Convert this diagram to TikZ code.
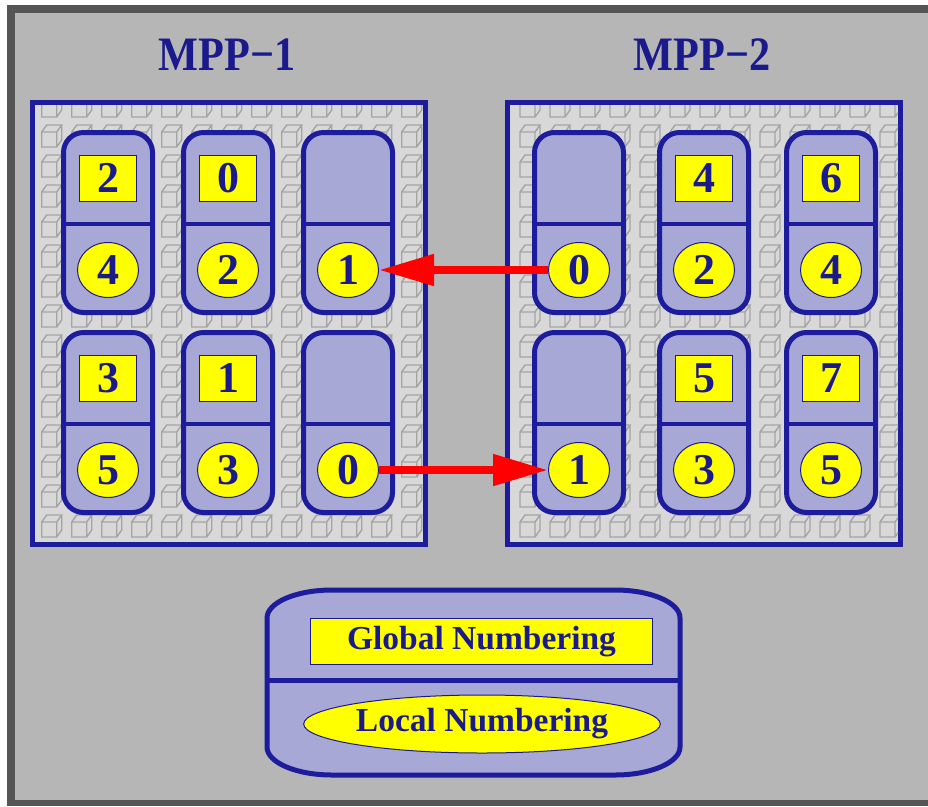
\documentclass[tikz,border=0pt]{standalone}
\usepackage{fontspec}
\setmainfont{Liberation Serif}
\newfontfamily\titlefont{Liberation Serif}[FakeStretch=0.88]
\usetikzlibrary{arrows.meta,shapes.geometric}

\definecolor{framegray}{HTML}{555555}
\definecolor{bggray}{HTML}{B6B6B6}
\definecolor{boxgray}{HTML}{D8D8D8}
\definecolor{cubegray}{HTML}{A4A4A4}
\definecolor{lineblue}{HTML}{1C1C9C}
\definecolor{numblue}{HTML}{1A1A8C}
\definecolor{tilefill}{HTML}{A8A8D6}
\definecolor{numyellow}{HTML}{FFFF00}

\tikzset{
  mppbox/.style={draw=lineblue, line width=5pt, fill=boxgray},
  cube/.style={draw=cubegray, line width=1.4pt},
  tile/.style={draw=lineblue, line width=5pt, fill=tilefill, rounded corners=20pt,
    minimum width=89pt, minimum height=180pt, inner sep=0pt},
  divider/.style={draw=lineblue, line width=4.5pt},
  digits/.style={text=numblue, font=\bfseries\fontsize{44}{44}\selectfont},
  glob/.style={digits, draw=numblue, line width=1pt, fill=numyellow,
    minimum width=57pt, minimum height=46pt, inner sep=0pt},
  loc/.style={digits, ellipse, draw=numblue, line width=1pt, fill=numyellow,
    minimum width=61pt, minimum height=55pt, inner sep=0pt},
  arr/.style={draw=red, line width=8pt, -{Triangle[length=55pt,width=30pt]}},
  title/.style={text=numblue, anchor=base, font=\titlefont\bfseries\fontsize{48}{48}\selectfont},
  legendtext/.style={text=numblue, inner sep=0pt, font=\bfseries\fontsize{33.5}{33.5}\selectfont},
}

% one grey wire-frame cube, top-left corner of its bounding box at (#1,#2)
\newcommand\gridcube[2]{%
  \draw[cube] (#1,#2+7) rectangle ++(15,15)
    (#1,#2+7) -- ++(5,-7) -- ++(15,0) -- ++(-5,7)
    (#1+20,#2) -- ++(0,15) -- ++(-5,7);}

\begin{document}
\begin{tikzpicture}[x=1pt,y=-1pt]
\useasboundingbox (0,0) rectangle (928,806);
\fill[white] (0,0) rectangle (928,806);
\fill[framegray] (7,5) rectangle (940,806);
\fill[bggray] (15,13) rectangle (940,800);

% titles
\node[title] (t1) at (227,70) {MPP−1};
\node[title] (t2) at (702,70) {MPP−2};

% the two machine boxes with their cube grids
\draw[mppbox] (32.5,102.5) rectangle (425.5,544.5);
\draw[mppbox] (507.5,102.5) rectangle (900.5,544.5);
\begin{scope}
  \clip (35,105) rectangle (423,542);
  \foreach \i in {0,...,12}
    \foreach \j in {0,...,14}
      {\gridcube{41.7+30*\i}{95+30*\j}}
\end{scope}
\begin{scope}
  \clip (510,105) rectangle (898,542);
  \foreach \i in {0,...,12}
    \foreach \j in {0,...,14}
      {\gridcube{520+30*\i}{95+30*\j}}
\end{scope}

% processor tiles
\foreach \nm/\cx/\oy in {a1/108/0, a2/228/0, a3/348/0, a4/108/200, a5/228/200, a6/348/200,
                         b1/579/0, b2/704/0, b3/831/0, b4/579/200, b5/704/200, b6/831/200}
{
  \node[tile] (\nm) at (\cx,222.5+\oy) {};
  \draw[divider] (\cx-44.5,224+\oy) -- (\cx+44.5,224+\oy);
}

% global numbers
\foreach \nm/\cx/\oy/\t in {a1/108/0/2, a2/228/0/0, a4/108/200/3, a5/228/200/1,
                            b2/704/0/4, b3/831/0/6, b5/704/200/5, b6/831/200/7}
  \node[glob] (g\nm) at (\cx,178+\oy) {\t};

% local numbers
\foreach \nm/\cx/\oy/\t in {a1/108/0/4, a2/228/0/2, a3/348/0/1, a4/108/200/5, a5/228/200/3, a6/348/200/0,
                            b1/579/0/0, b2/704/0/2, b3/831/0/4, b4/579/200/1, b5/704/200/3, b6/831/200/5}
  \node[loc] (l\nm) at (\cx,270+\oy) {\t};

% communication between the machines
\draw[arr] (lb1) -- (la3);
\draw[arr] (la6) -- (lb4);

% legend
\draw[draw=lineblue, line width=5pt, fill=tilefill]
  (332,590) -- (615,590)
  arc[start angle=90, end angle=0, x radius=65pt, y radius=28pt]
  -- (680,747)
  arc[start angle=0, end angle=-90, x radius=65pt, y radius=28pt]
  -- (332,775)
  arc[start angle=270, end angle=180, x radius=65pt, y radius=28pt]
  -- (267,618)
  arc[start angle=180, end angle=90, x radius=65pt, y radius=28pt]
  -- cycle;
\draw[divider, line width=5pt] (267,680) -- (680,680);
\node[legendtext, draw=numblue, line width=1pt, fill=numyellow,
  minimum width=342pt, minimum height=46pt] (lgglob) at (481.5,641.5) {Global Numbering};
\node[legendtext, ellipse, draw=numblue, line width=1pt, fill=numyellow,
  minimum width=350pt, minimum height=58pt] (lgloc) at (482,724) {Local Numbering};
\end{tikzpicture}
\end{document}
